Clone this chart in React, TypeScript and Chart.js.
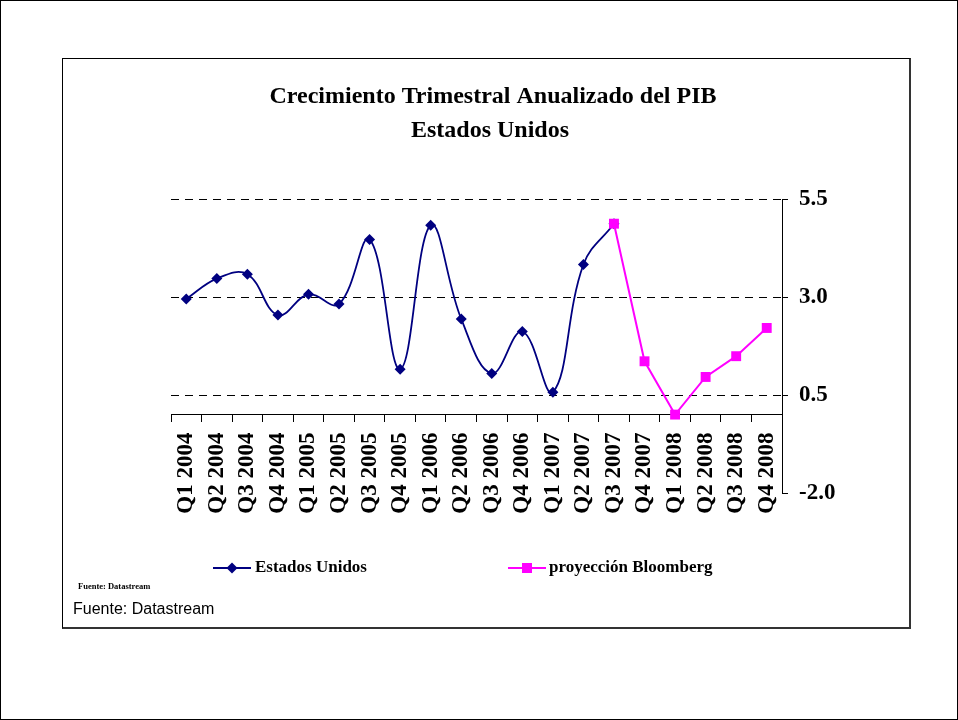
import React, { useEffect, useRef } from 'react';
import { Chart, registerables } from 'chart.js';

Chart.register(...registerables);

const categories = [
  'Q1 2004', 'Q2 2004', 'Q3 2004', 'Q4 2004',
  'Q1 2005', 'Q2 2005', 'Q3 2005', 'Q4 2005',
  'Q1 2006', 'Q2 2006', 'Q3 2006', 'Q4 2006',
  'Q1 2007', 'Q2 2007', 'Q3 2007', 'Q4 2007',
  'Q1 2008', 'Q2 2008', 'Q3 2008', 'Q4 2008',
];

const estadosUnidos: (number | null)[] = [
  2.95, 3.47, 3.58, 2.54,
  3.07, 2.82, 4.47, 1.16,
  4.83, 2.44, 1.05, 2.12,
  0.57, 3.83, 4.87, null,
  null, null, null, null,
];

const proyeccionBloomberg: (number | null)[] = [
  null, null, null, null,
  null, null, null, null,
  null, null, null, null,
  null, null, 4.87, 1.36,
  0.0, 0.96, 1.49, 2.21,
];

const yTickValues = [-2, 0.5, 3, 5.5];
const titleLines = ['Crecimiento Trimestral Anualizado del PIB', 'Estados Unidos'];
const seriesNames = ['Estados Unidos', 'proyección Bloomberg'];
const sourceNote = 'Fuente: Datastream';

const NAVY = '#000080';
const MAGENTA = '#FF00FF';
const SERIF = '"Liberation Serif", "Times New Roman", serif';
const SANS = '"Liberation Sans", Arial, sans-serif';

const decorPlugin = {
  id: 'decor',
  afterDraw(chart: any) {
    const ctx = chart.ctx as CanvasRenderingContext2D;
    ctx.save();
    // Titles
    ctx.fillStyle = '#000';
    ctx.textAlign = 'center';
    ctx.textBaseline = 'middle';
    ctx.font = `bold 24px ${SERIF}`;
    ctx.fillText(titleLines[0], 493, 97);
    ctx.fillText(titleLines[1], 490, 131);

    // Legend
    const legendY = 568;
    // Estados Unidos
    ctx.strokeStyle = NAVY;
    ctx.lineWidth = 2;
    ctx.beginPath();
    ctx.moveTo(213, legendY);
    ctx.lineTo(251, legendY);
    ctx.stroke();
    ctx.fillStyle = NAVY;
    ctx.beginPath();
    ctx.moveTo(232, legendY - 5.5);
    ctx.lineTo(237.5, legendY);
    ctx.lineTo(232, legendY + 5.5);
    ctx.lineTo(226.5, legendY);
    ctx.closePath();
    ctx.fill();
    ctx.fillStyle = '#000';
    ctx.textAlign = 'left';
    ctx.font = `bold 17px ${SERIF}`;
    ctx.fillText(seriesNames[0], 255, legendY);

    // Proyeccion
    ctx.strokeStyle = MAGENTA;
    ctx.lineWidth = 2;
    ctx.beginPath();
    ctx.moveTo(508, legendY);
    ctx.lineTo(546, legendY);
    ctx.stroke();
    ctx.fillStyle = MAGENTA;
    ctx.fillRect(522, legendY - 5, 10, 10);
    ctx.fillStyle = '#000';
    ctx.fillText(seriesNames[1], 549, legendY);

    // Source notes
    ctx.font = `bold 8.5px ${SERIF}`;
    ctx.fillText(sourceNote, 78, 587);
    ctx.font = `16px ${SANS}`;
    ctx.fillText(sourceNote, 73, 610);
    ctx.restore();
  },
};

export default function App() {
  const ref = useRef<HTMLCanvasElement>(null);

  useEffect(() => {
    document.body.style.margin = '0';
    const canvas = ref.current;
    if (!canvas) return;
    const chart = new Chart(canvas, {
      type: 'line',
      data: {
        labels: categories,
        datasets: [
          {
            label: seriesNames[1],
            data: proyeccionBloomberg,
            borderColor: MAGENTA,
            backgroundColor: MAGENTA,
            borderWidth: 2,
            tension: 0,
            pointStyle: 'rect',
            pointRadius: 7,
            pointBorderWidth: 0,
            pointBackgroundColor: MAGENTA,
            spanGaps: false,
          },
          {
            label: seriesNames[0],
            data: estadosUnidos,
            borderColor: NAVY,
            backgroundColor: NAVY,
            borderWidth: 1.8,
            tension: 0.4,
            pointStyle: 'rectRot',
            pointRadius: 5.5,
            pointBorderWidth: 0,
            pointBackgroundColor: NAVY,
            spanGaps: false,
          },
        ],
      },
      options: {
        responsive: false,
        animation: false,
        layout: { padding: { left: 171, top: 199, right: 116, bottom: 227 } },
        plugins: {
          legend: { display: false },
          title: { display: false },
          tooltip: { enabled: false },
        },
        scales: {
          x: {
            type: 'category',
            position: { y: 0 } as any,
            offset: true,
            afterFit: (s: any) => { s.height = 0; },
            grid: {
              display: true,
              offset: true,
              drawOnChartArea: false,
              drawTicks: true,
              tickLength: 7,
              tickColor: '#000',
              tickWidth: 1,
            },
            border: { display: true, color: '#000', width: 1 },
            ticks: {
              autoSkip: false,
              minRotation: 90,
              maxRotation: 90,
              padding: 11,
              color: '#000',
              font: { family: SERIF, size: 23, weight: 'bold' },
            },
          },
          y: {
            type: 'linear',
            position: 'right',
            min: -2,
            max: 5.5,
            afterFit: (s: any) => { s.width = 60; },
            afterBuildTicks: (s: any) => {
              s.ticks = yTickValues.map((v) => ({ value: v }));
            },
            grid: {
              display: true,
              drawOnChartArea: true,
              drawTicks: true,
              tickLength: 6,
              color: (c: any) => (c.tick && c.tick.value === -2 ? 'rgba(0,0,0,0)' : '#000'),
              lineWidth: 1,
              tickColor: '#000',
              tickWidth: 1,
            },
            border: { display: true, color: '#000', width: 1, dash: [8, 6] },
            ticks: {
              padding: 11,
              color: '#000',
              font: { family: SERIF, size: 23, weight: 'bold' },
              callback: (v: any) => Number(v).toFixed(1),
            },
          },
        },
      },
      plugins: [decorPlugin],
    });
    return () => chart.destroy();
  }, []);

  return (
    <div style={{ position: 'relative', width: 958, height: 720, background: '#fff', overflow: 'hidden' }}>
      <canvas
        ref={ref}
        width={958}
        height={720}
        style={{ position: 'absolute', left: 0, top: 0, width: 958, height: 720 }}
      />
      <div
        style={{
          position: 'absolute', left: 0, top: 0, width: 958, height: 720,
          boxSizing: 'border-box', border: '1px solid #000', pointerEvents: 'none',
        }}
      />
      <div
        style={{
          position: 'absolute', left: 62, top: 58, width: 849, height: 571,
          boxSizing: 'border-box', borderLeft: '1px solid #000', borderTop: '1px solid #000',
          borderRight: '2px solid #333', borderBottom: '2px solid #333', pointerEvents: 'none',
        }}
      />
    </div>
  );
}
